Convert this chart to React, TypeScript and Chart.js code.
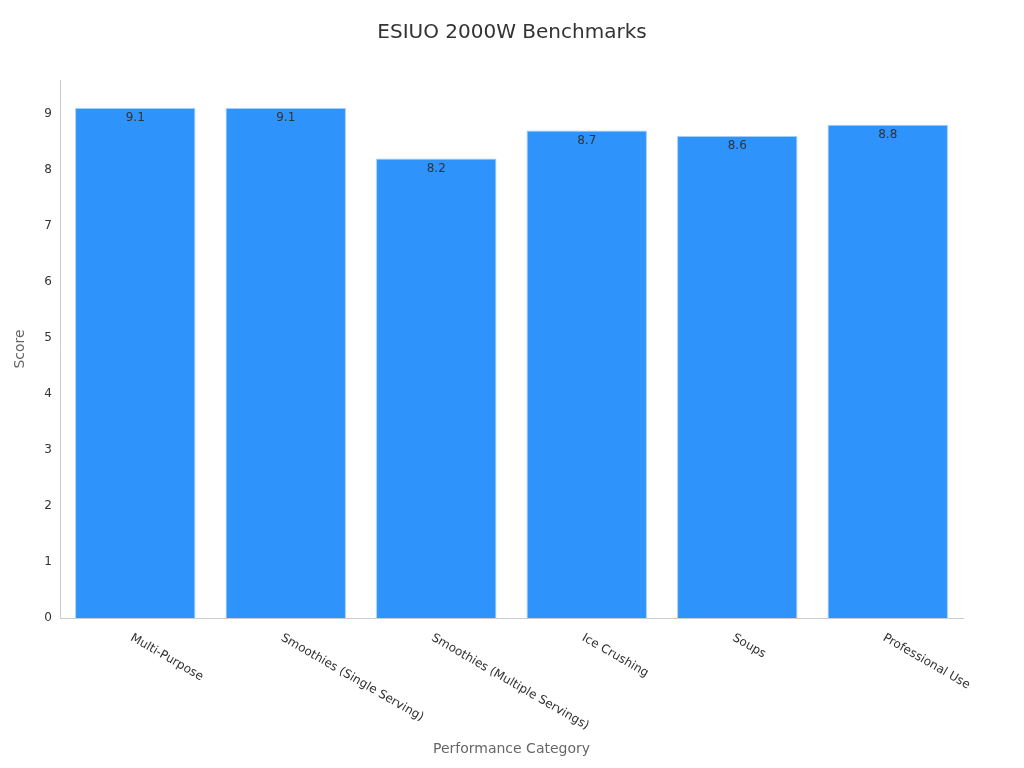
import { useEffect, useRef } from "react"
import { Chart, registerables } from "chart.js"

Chart.register(...registerables)

const categories = [
  "Multi-Purpose",
  "Smoothies (Single Serving)",
  "Smoothies (Multiple Servings)",
  "Ice Crushing",
  "Soups",
  "Professional Use",
]
const scores = [9.1, 9.1, 8.2, 8.7, 8.6, 8.8]
const yTicks = [0, 1, 2, 3, 4, 5, 6, 7, 8, 9]
const chartTitle = "ESIUO 2000W Benchmarks"

const FONT = "'DejaVu Sans', sans-serif"

// title centred on the page, value labels in the bars, rotated category labels
const labelPlugin = {
  id: "customLabels",
  afterDatasetsDraw(chart: Chart) {
    const ctx = chart.ctx
    const meta = chart.getDatasetMeta(0)
    ctx.save()
    ctx.font = `12px ${FONT}`
    ctx.fillStyle = "#333"
    ctx.textAlign = "center"
    ctx.textBaseline = "middle"
    meta.data.forEach((bar: any, i: number) => {
      ctx.fillText(String(scores[i]), bar.x, bar.y + 10)
    })
    ctx.restore()
  },
  afterDraw(chart: Chart) {
    const ctx = chart.ctx
    const xScale = chart.scales.x
    ctx.save()
    ctx.font = `20px ${FONT}`
    ctx.fillStyle = "#333"
    ctx.textAlign = "center"
    ctx.textBaseline = "middle"
    ctx.fillText(chartTitle, chart.width / 2, 33)

    ctx.font = `12px ${FONT}`
    ctx.textAlign = "left"
    categories.forEach((label, i) => {
      const x = xScale.getPixelForTick(i)
      ctx.save()
      ctx.translate(x - 4, xScale.top + 19)
      ctx.rotate((30 * Math.PI) / 180)
      ctx.fillText(label, 0, 0)
      ctx.restore()
    })
    ctx.restore()
  },
}

export default function App() {
  const chartRef = useRef<HTMLCanvasElement>(null)
  const chartInstance = useRef<Chart | null>(null)

  useEffect(() => {
    if (!chartRef.current) return
    if (chartInstance.current) chartInstance.current.destroy()
    const ctx = chartRef.current.getContext("2d")
    if (!ctx) return

    chartInstance.current = new Chart(ctx, {
      type: "bar",
      data: {
        labels: categories,
        datasets: [
          {
            label: "Score",
            data: scores,
            backgroundColor: "#2e93fa",
            borderColor: "#a3cffb",
            borderWidth: 1,
            barPercentage: 0.8,
            categoryPercentage: 1,
          },
        ],
      },
      plugins: [labelPlugin],
      options: {
        responsive: true,
        maintainAspectRatio: false,
        animation: false,
        layout: { padding: { left: 8, right: 61, top: 80, bottom: 10 } },
        scales: {
          x: {
            afterFit(scale: any) {
              scale.height = 140
            },
            grid: {
              display: false,
              drawTicks: true,
              tickLength: 5,
              tickColor: "#999",
            },
            border: { color: "#ccc" },
            ticks: { display: false },
            title: {
              display: true,
              text: "Performance Category",
              color: "#666",
              font: { family: FONT, size: 14 },
              padding: { top: 0, bottom: 0 },
            },
          },
          y: {
            min: 0,
            max: 9.6,
            afterBuildTicks(scale: any) {
              scale.ticks = yTicks.map((v) => ({ value: v }))
            },
            afterFit(scale: any) {
              scale.width = 52
            },
            grid: {
              display: false,
              drawTicks: true,
              tickLength: 5,
              tickColor: "#666",
            },
            border: { color: "#ccc" },
            ticks: {
              color: "#333",
              font: { family: FONT, size: 12 },
              padding: 3,
            },
            title: {
              display: true,
              text: "Score",
              color: "#666",
              font: { family: FONT, size: 14 },
              padding: { top: 4, bottom: 0 },
            },
          },
        },
        plugins: {
          legend: { display: false },
          tooltip: { enabled: false },
          title: { display: false },
        },
      },
    })

    return () => {
      if (chartInstance.current) chartInstance.current.destroy()
    }
  }, [])

  return (
    <div style={{ position: "fixed", left: 0, top: 0, width: 1024, height: 768, background: "#fff" }}>
      <canvas ref={chartRef} />
    </div>
  )
}
